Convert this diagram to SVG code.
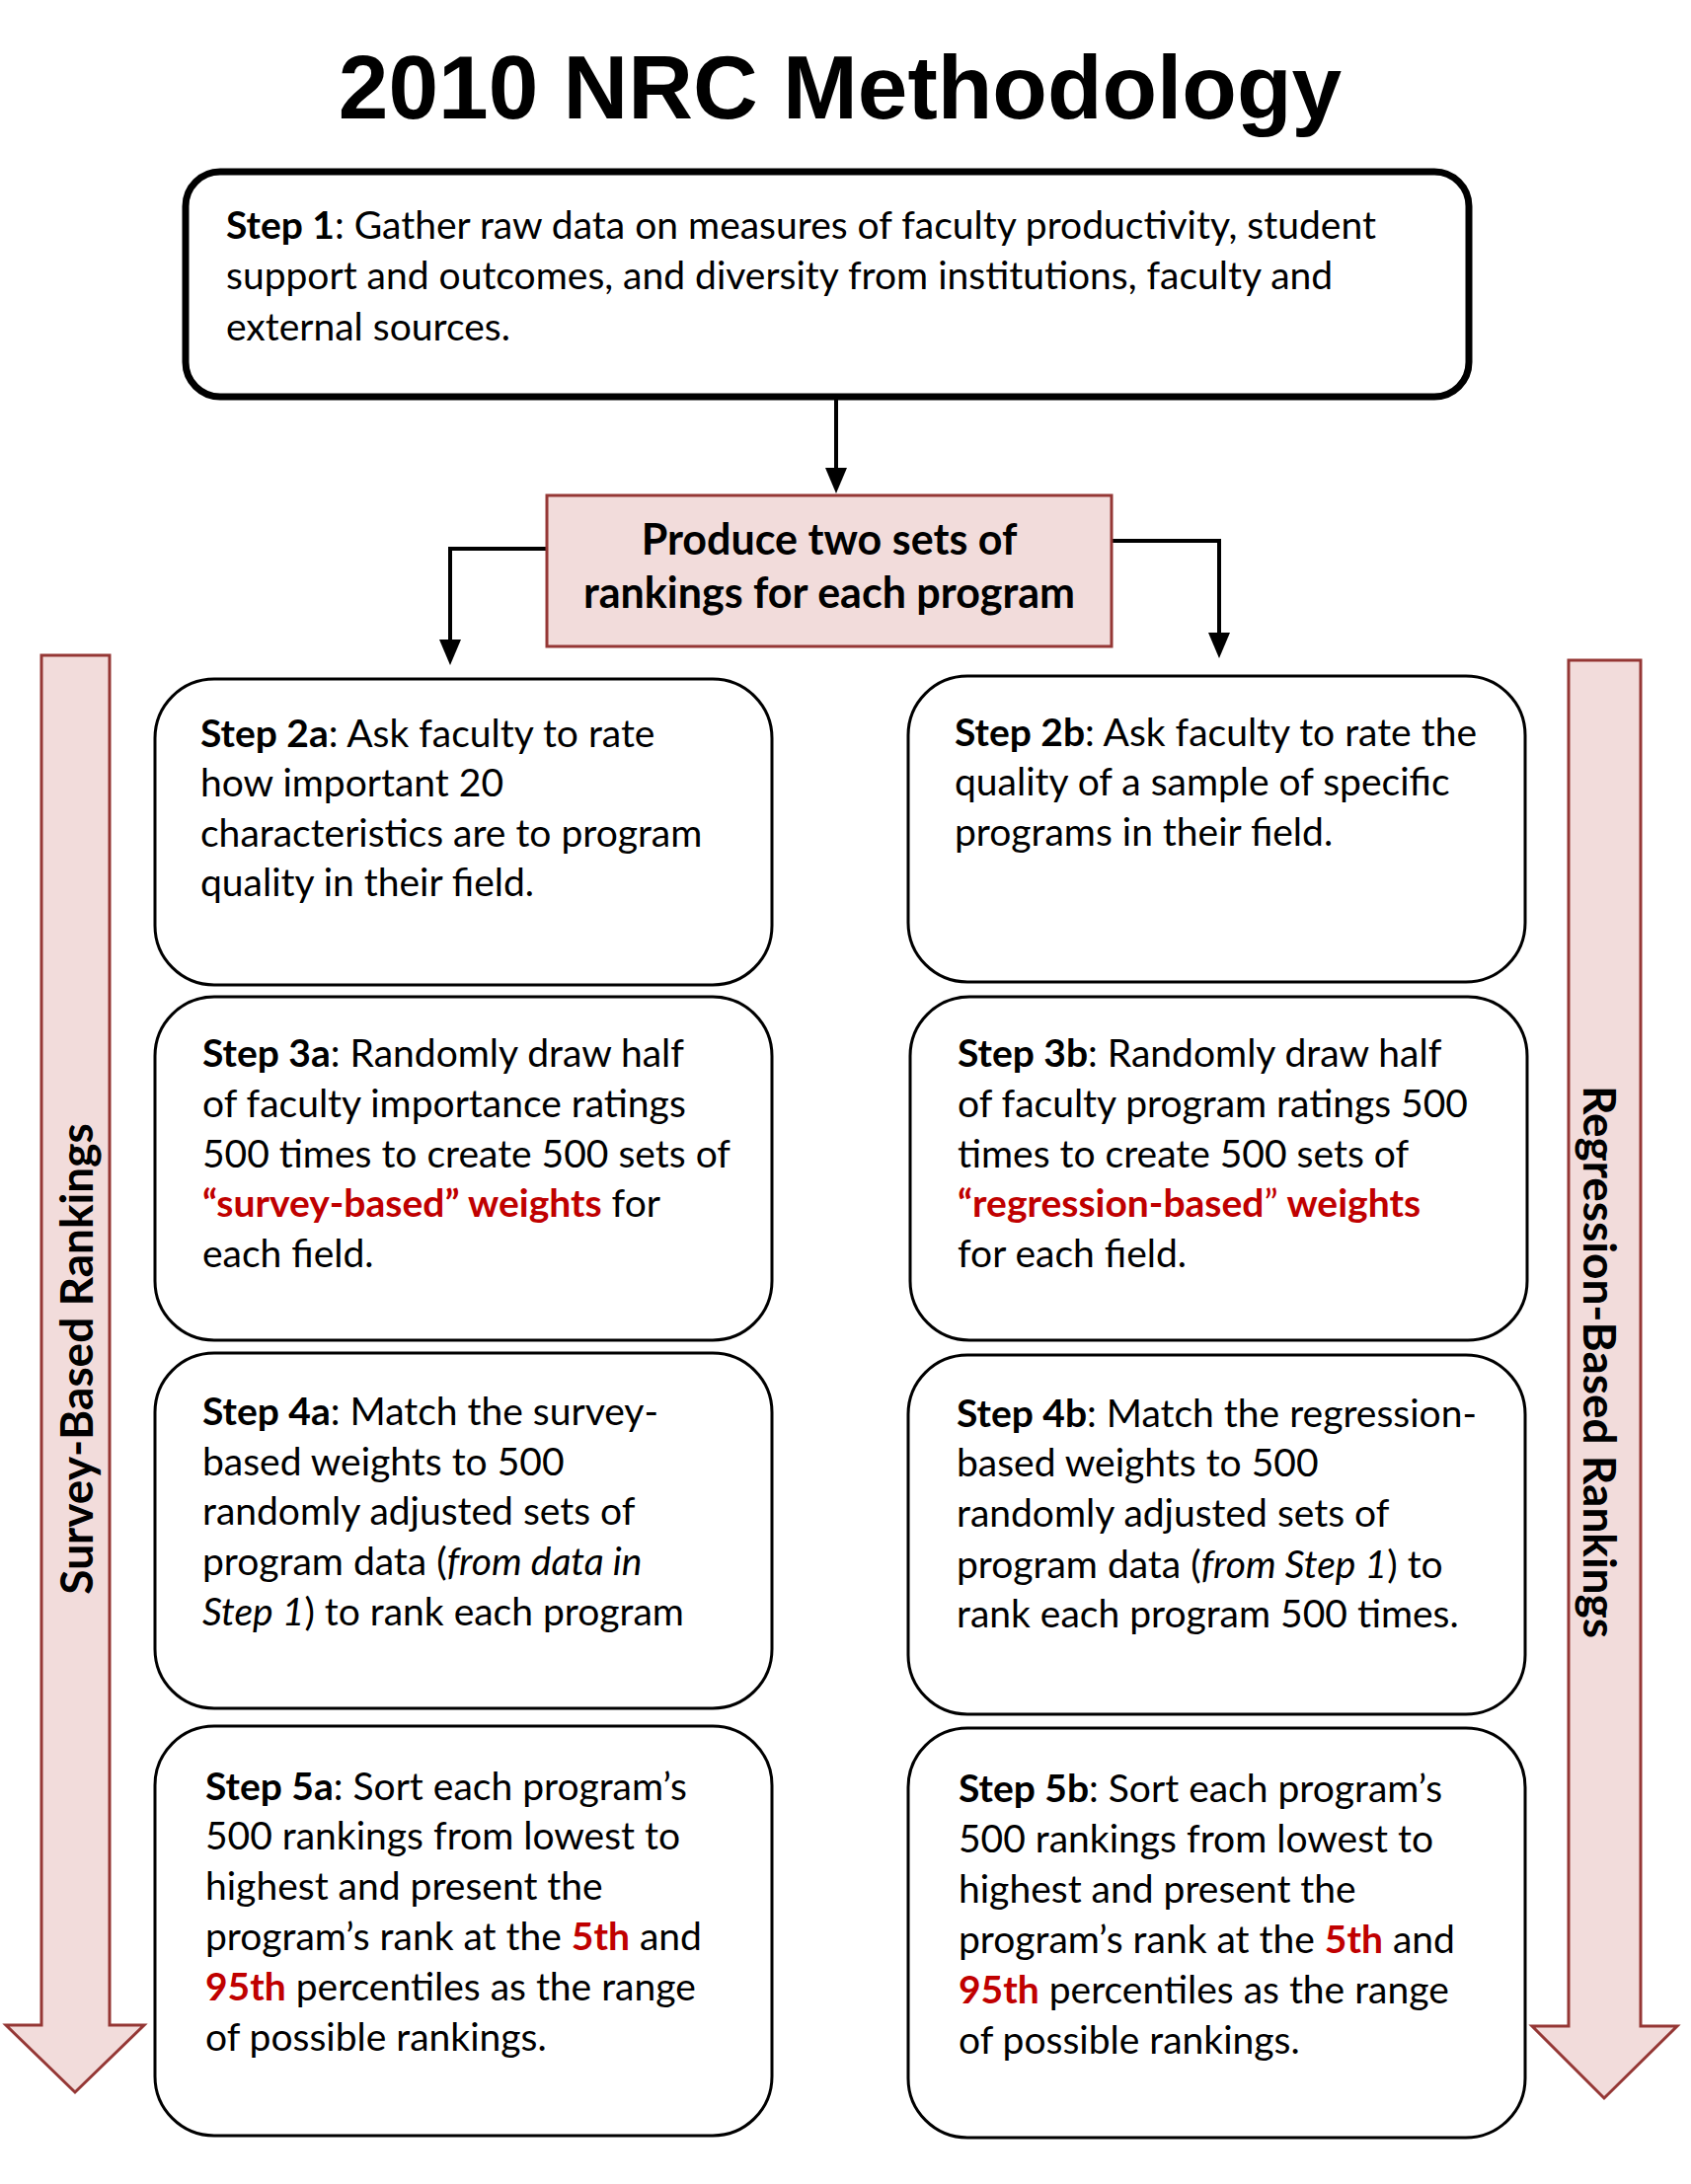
<svg xmlns="http://www.w3.org/2000/svg" width="1713" height="2213" viewBox="0 0 1713 2213">
<defs>
<style>
.title{font-family:"Liberation Sans",Arial,sans-serif;font-weight:bold;font-size:91px;fill:#000}
.body{font-family:Lato,"Liberation Sans",sans-serif;font-size:39px;fill:#000}
.b{font-weight:bold}
.i{font-style:italic}
.red{fill:#c00000;font-weight:bold}
.redr{fill:#c00000}
.box{fill:#fff;stroke:#000;stroke-width:3}
.pink{fill:#f2dcdb;stroke:#953735;stroke-width:3}
.conn{fill:none;stroke:#000;stroke-width:4}
.side{font-family:Lato,"Liberation Sans",sans-serif;font-weight:bold;font-size:46px;fill:#000}
.prod{font-family:Lato,"Liberation Sans",sans-serif;font-weight:bold;font-size:43px;fill:#000}
</style>
<marker id="ah" markerUnits="userSpaceOnUse" markerWidth="26" markerHeight="22" refX="4" refY="11" orient="auto" viewBox="0 0 26 22">
<path d="M0,0 L26,11 L0,22 z" fill="#000"/>
</marker>
</defs>
<rect width="1713" height="2213" fill="#fff"/>
<text class="title" x="851" y="120" text-anchor="middle">2010 NRC Methodology</text>

<g id="connectors">
<line class="conn" x1="847" y1="402" x2="847" y2="478" marker-end="url(#ah)"/>
<path class="conn" d="M554,556 H456 V652" marker-end="url(#ah)"/>
<path class="conn" d="M1126,548 H1235 V645" marker-end="url(#ah)"/>
</g>

<g id="survey-arrow">
<polygon class="pink" points="42,664 111,664 111,2052 146,2052 76,2120 6,2052 42,2052"/>
<text class="side" transform="translate(94,1377) rotate(-90)" text-anchor="middle">Survey-Based Rankings</text>
</g>
<g id="regression-arrow">
<polygon class="pink" points="1589,669 1662,669 1662,2053 1699,2053 1625,2126 1552,2053 1589,2053"/>
<text class="side" transform="translate(1604,1380) rotate(90)" text-anchor="middle">Regression-Based Rankings</text>
</g>

<g id="step1">
<rect x="188" y="174" width="1300" height="228" rx="35" fill="#fff" stroke="#000" stroke-width="7"/>
<text class="body" x="229" y="242"><tspan class="b">Step 1</tspan>: Gather raw data on measures of faculty productivity, student</text>
<text class="body" x="229" y="293">support and outcomes, and diversity from institutions, faculty and</text>
<text class="body" x="229" y="345">external sources.</text>
</g>

<g id="produce">
<rect class="pink" x="554" y="502" width="572" height="153"/>
<text class="prod" x="840" y="562" text-anchor="middle">Produce two sets of</text>
<text class="prod" x="840" y="616" text-anchor="middle">rankings for each program</text>
</g>

<g id="step2a">
<rect class="box" x="157" y="688" width="625" height="310" rx="60"/>
<text class="body" x="203" y="757"><tspan class="b">Step 2a</tspan>: Ask faculty to rate</text>
<text class="body" x="203" y="807">how important 20</text>
<text class="body" x="203" y="858">characteristics are to program</text>
<text class="body" x="203" y="908">quality in their field.</text>
</g>

<g id="step3a">
<rect class="box" x="157" y="1010" width="625" height="348" rx="60"/>
<text class="body" x="205" y="1081"><tspan class="b">Step 3a</tspan>: Randomly draw half</text>
<text class="body" x="205" y="1132">of faculty importance ratings</text>
<text class="body" x="205" y="1183">500 times to create 500 sets of</text>
<text class="body" x="205" y="1233"><tspan class="red">“survey-based” weights</tspan> for</text>
<text class="body" x="205" y="1284">each field.</text>
</g>

<g id="step4a">
<rect class="box" x="157" y="1371" width="625" height="360" rx="60"/>
<text class="body" x="205" y="1444"><tspan class="b">Step 4a</tspan>: Match the survey-</text>
<text class="body" x="205" y="1495">based weights to 500</text>
<text class="body" x="205" y="1545">randomly adjusted sets of</text>
<text class="body" x="205" y="1596">program data (<tspan class="i">from data in</tspan></text>
<text class="body" x="205" y="1647"><tspan class="i">Step 1</tspan>) to rank each program</text>
</g>

<g id="step5a">
<rect class="box" x="157" y="1749" width="625" height="415" rx="60"/>
<text class="body" x="208" y="1824"><tspan class="b">Step 5a</tspan>: Sort each program’s</text>
<text class="body" x="208" y="1874">500 rankings from lowest to</text>
<text class="body" x="208" y="1925">highest and present the</text>
<text class="body" x="208" y="1976">program’s rank at the <tspan class="red">5th</tspan> and</text>
<text class="body" x="208" y="2027"><tspan class="red">95th</tspan> percentiles as the range</text>
<text class="body" x="208" y="2078">of possible rankings.</text>
</g>

<g id="step2b">
<rect class="box" x="920" y="685" width="625" height="310" rx="60"/>
<text class="body" x="967" y="756"><tspan class="b">Step 2b</tspan>: Ask faculty to rate the</text>
<text class="body" x="967" y="806">quality of a sample of specific</text>
<text class="body" x="967" y="857">programs in their field.</text>
</g>

<g id="step3b">
<rect class="box" x="922" y="1010" width="625" height="348" rx="60"/>
<text class="body" x="970" y="1081"><tspan class="b">Step 3b</tspan>: Randomly draw half</text>
<text class="body" x="970" y="1132">of faculty program ratings 500</text>
<text class="body" x="970" y="1183">times to create 500 sets of</text>
<text class="body" x="970" y="1233"><tspan class="red">“regression-based</tspan><tspan class="redr">”</tspan><tspan class="red"> weights</tspan></text>
<text class="body" x="970" y="1284">for each field.</text>
</g>

<g id="step4b">
<rect class="box" x="920" y="1373" width="625" height="364" rx="60"/>
<text class="body" x="969" y="1446"><tspan class="b">Step 4b</tspan>: Match the regression-</text>
<text class="body" x="969" y="1496">based weights to 500</text>
<text class="body" x="969" y="1547">randomly adjusted sets of</text>
<text class="body" x="969" y="1599">program data (<tspan class="i">from Step 1</tspan>) to</text>
<text class="body" x="969" y="1649">rank each program 500 times.</text>
</g>

<g id="step5b">
<rect class="box" x="920" y="1751" width="625" height="415" rx="60"/>
<text class="body" x="971" y="1826"><tspan class="b">Step 5b</tspan>: Sort each program’s</text>
<text class="body" x="971" y="1877">500 rankings from lowest to</text>
<text class="body" x="971" y="1928">highest and present the</text>
<text class="body" x="971" y="1979">program’s rank at the <tspan class="red">5th</tspan> and</text>
<text class="body" x="971" y="2030"><tspan class="red">95th</tspan> percentiles as the range</text>
<text class="body" x="971" y="2081">of possible rankings.</text>
</g>
</svg>
